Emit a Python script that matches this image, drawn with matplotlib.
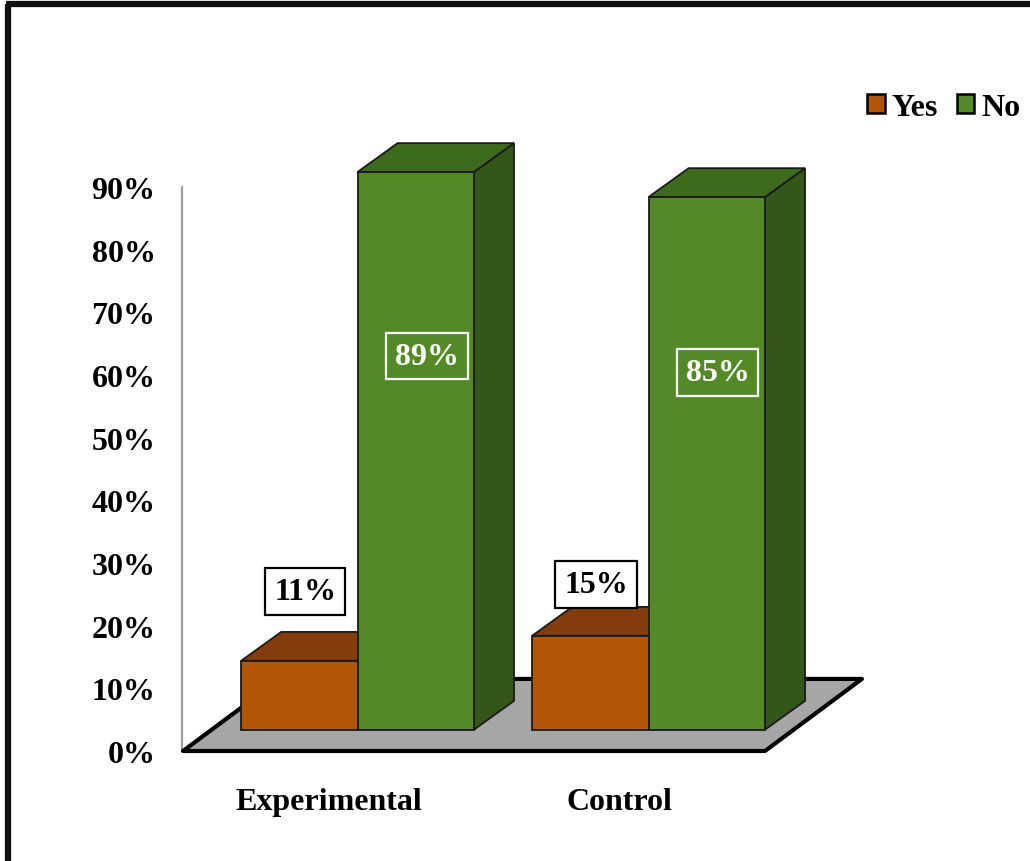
import matplotlib
matplotlib.use("Agg")
import matplotlib.pyplot as plt
from matplotlib.patches import Polygon, Patch
from matplotlib.lines import Line2D

# ---- data ----
categories = ["Experimental", "Control"]
series_names = ["Yes", "No"]
yes_values = [11, 15]
no_values = [89, 85]
y_ticks = [0, 10, 20, 30, 40, 50, 60, 70, 80, 90]
y_tick_labels = [f"{t}%" for t in y_ticks]

# ---- style ----
FONT = "Liberation Serif"
plt.rcParams["font.family"] = [FONT, "DejaVu Serif"]
plt.rcParams["font.weight"] = "bold"
FS = 23

front_cols = {"Yes": "#B35507", "No": "#548A26"}
top_cols = {"Yes": "#843C0C", "No": "#3E6A1B"}
side_cols = {"Yes": "#6E3209", "No": "#345618"}
floor_col = "#A6A6A6"

W, H = 1030, 862
fig = plt.figure(figsize=(W / 100, H / 100), dpi=100)

# axes: x unit = category spacing, y = percent
px_per_x = 291.0
x0_pix = 328.5
ax_left_pix, ax_right_pix = 182, 862
ax_bot_pix, ax_top_pix = 752, 188
ax = fig.add_axes([ax_left_pix / W, 1 - ax_bot_pix / H,
                   (ax_right_pix - ax_left_pix) / W, (ax_bot_pix - ax_top_pix) / H])
ax.set_xlim((ax_left_pix - x0_pix) / px_per_x, (ax_right_pix - x0_pix) / px_per_x)
ax.set_ylim(0, 90)

# depth geometry (in data units)
FLOOR_DX, FLOOR_DY = 0.333, 11.5
BAR_OX, BAR_OY = 0.1, 3.4
BAR_DX, BAR_DY = 0.1375, 4.6
bar_w = 0.4

# floor
n = len(categories)
floor = Polygon([(-0.5, 0), (n - 0.5, 0), (n - 0.5 + FLOOR_DX, FLOOR_DY),
                 (-0.5 + FLOOR_DX, FLOOR_DY)], closed=True,
                facecolor=floor_col, edgecolor="black", lw=3, joinstyle="round",
                clip_on=False, zorder=1)
ax.add_patch(floor)

def draw_bar(xl, v, name, z):
    xr = xl + bar_w
    fx0, fx1 = xl + BAR_OX, xr + BAR_OX
    b = BAR_OY
    t = BAR_OY + v
    side = Polygon([(fx1, b), (fx1 + BAR_DX, b + BAR_DY), (fx1 + BAR_DX, t + BAR_DY), (fx1, t)],
                   closed=True, facecolor=side_cols[name], edgecolor="#1a1a1a", lw=1.3,
                   clip_on=False, zorder=z)
    top = Polygon([(fx0, t), (fx1, t), (fx1 + BAR_DX, t + BAR_DY), (fx0 + BAR_DX, t + BAR_DY)],
                  closed=True, facecolor=top_cols[name], edgecolor="#1a1a1a", lw=1.3,
                  clip_on=False, zorder=z)
    front = Polygon([(fx0, b), (fx1, b), (fx1, t), (fx0, t)],
                    closed=True, facecolor=front_cols[name], edgecolor="#1a1a1a", lw=1.3,
                    clip_on=False, zorder=z + 0.1)
    for p in (side, top, front):
        ax.add_patch(p)
    return (fx0 + fx1) / 2, t

yes_label_dy = [11.0, 8.2]
for i in range(n):
    cx, ty = draw_bar(i - bar_w, yes_values[i], "Yes", 2 + i * 2)
    ax.text(cx + 0.02, ty + yes_label_dy[i], f"{yes_values[i]}%", ha="center", va="center",
            fontsize=FS, fontweight="bold", color="black", zorder=10,
            bbox=dict(boxstyle="square,pad=0.28", facecolor="white", edgecolor="black", lw=1.6))
    cx, ty = draw_bar(i, no_values[i], "No", 3 + i * 2)
    ax.text(cx + 0.037, BAR_OY + 0.67 * no_values[i], f"{no_values[i]}%", ha="center", va="center",
            fontsize=FS, fontweight="bold", color="white", zorder=10,
            bbox=dict(boxstyle="square,pad=0.28", facecolor="none", edgecolor="white", lw=1.6))

# axes styling
for s in ("top", "right", "bottom"):
    ax.spines[s].set_visible(False)
ax.spines["left"].set_color("#A0A0A0")
ax.spines["left"].set_linewidth(1.6)
ax.spines["left"].set_zorder(0.5)
ax.set_yticks(y_ticks)
ax.set_yticklabels(y_tick_labels, fontsize=FS, fontweight="bold")
ax.tick_params(axis="y", length=0, pad=19)
ax.set_xticks(range(n))
ax.set_xticklabels(categories, fontsize=FS, fontweight="bold")
ax.tick_params(axis="x", length=0, pad=26)
ax.patch.set_visible(False)

# legend
handles = [Patch(facecolor=front_cols[s], edgecolor="black", lw=1.8) for s in series_names]
fig.legend(handles, series_names, loc="center right", bbox_to_anchor=(1020 / W, 1 - 108 / H),
           ncol=2, frameon=False, handlelength=0.55, handleheight=0.55, handletextpad=0.2,
           columnspacing=0.6, borderaxespad=0, borderpad=0,
           prop={"family": FONT, "weight": "bold", "size": FS})

# outer frame (left and top edges)
fig.add_artist(Line2D([8 / W, 8 / W], [0, 1 - 5 / H], color="#111111", lw=4.5,
                      solid_capstyle="butt", transform=fig.transFigure))
fig.add_artist(Line2D([6 / W, 1], [1 - 5 / H, 1 - 5 / H], color="#111111", lw=4.5,
                      solid_capstyle="butt", transform=fig.transFigure))

fig.savefig("out.png", dpi=100, facecolor="white")
